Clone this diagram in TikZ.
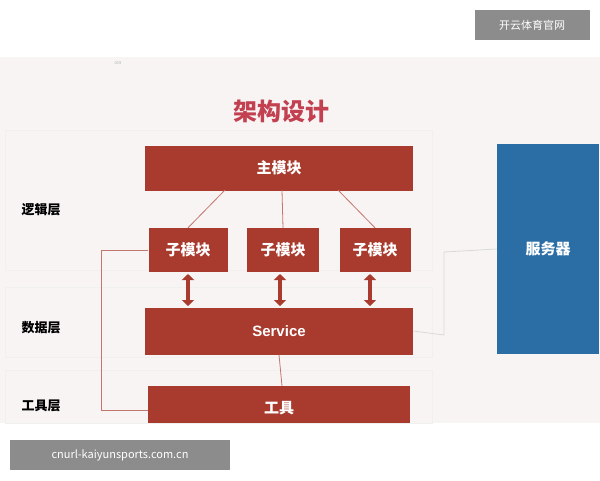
\documentclass[tikz,border=0pt]{standalone}
\usepackage{fontspec}
\setmainfont{Noto Sans CJK SC}
\setsansfont{Liberation Sans}
\usetikzlibrary{positioning,arrows.meta}
\definecolor{boxred}{HTML}{A83B2E}
\definecolor{srvblue}{HTML}{2B6EA6}
\definecolor{titlered}{HTML}{C2404F}
\definecolor{bgpink}{HTML}{F8F4F4}
\tikzset{
  redbox/.style={fill=boxred,text=white,inner sep=0pt,font=\bfseries\fontsize{15}{15}\selectfont},
  layer/.style={font=\bfseries\fontsize{13}{13}\selectfont},
  link/.style={boxred!70,line width=0.8pt},
}
\begin{document}
\begin{tikzpicture}[x=1pt,y=-1pt]
\useasboundingbox (0,0) rectangle (600,480);
\fill[white] (0,0) rectangle (600,480);
\fill[bgpink] (0,57) rectangle (600,423);
%----bands----%
\draw[black!6,line width=1pt] (5,130) rectangle (432,270);
\draw[black!6,line width=1pt] (5,287) rectangle (432,357);
\draw[black!6,line width=1pt] (5,370) rectangle (432,423);
\draw (118,63) node[black!35,font=\fontsize{4}{4}\selectfont] (pg) {019};
\draw (281,111) node[titlered,font=\bfseries\fontsize{24}{24}\selectfont] (title) {架构设计};
  %----layers----%
  \draw (41,210) node[layer] (l1) {逻辑层};
  \draw (41,328) node[layer] (l2) {数据层};
  \draw (41,406) node[layer] (l3) {工具层};
  %----boxes----%
  \draw (279,168) node[redbox,minimum width=268,minimum height=45] (main) {主模块};
  \draw (188,250) node[redbox,minimum width=79,minimum height=44] (s1) {子模块};
  \draw (283,250) node[redbox,minimum width=72,minimum height=44] (s2) {子模块};
  \draw (375,250) node[redbox,minimum width=71,minimum height=44] (s3) {子模块};
  \draw (279,331) node[redbox,minimum width=268,minimum height=47,font=\sffamily\bfseries\fontsize{15}{15}\selectfont] (svc) {Service};
  \fill[boxred] (148,386) rectangle (410,423);
  \draw (279,408) node[white,font=\bfseries\fontsize{15}{15}\selectfont] (tool) {工具};
  \draw (548,249) node[fill=srvblue,text=white,minimum width=102,minimum height=210,inner sep=0pt,font=\bfseries\fontsize{15}{15}\selectfont] (srv) {服务器};
  %----links----%
  \draw[link] (225,190) -- (s1.north);
  \draw[link] (282,190) -- (s2.north);
  \draw[link] (338,190) -- (s3.north);
  \draw[link] (svc.south) -- (282,386);
  \draw[link] (s1.west) -- (101,250) -- (101,410) -- (148,410);
  \draw[black!15,line width=0.8pt] (svc.east) -- (444,335) -- (444,252) -- (srv.west);
  %----arrows----%
  \foreach \x in {188,280,370}
    \draw[boxred,line width=4pt,{Triangle[width=12pt,length=6pt]}-{Triangle[width=12pt,length=6pt]}] (\x,274) -- (\x,306);
  %----marks----%
  \fill[black!45] (475,10) rectangle (590,40);
  \draw (532,25) node[white,font=\fontsize{11}{11}\selectfont] (site) {开云体育官网};
  \fill[black!45] (10,440) rectangle (230,470);
  \draw (120,455) node[white,font=\fontsize{11}{11}\selectfont] (url) {cnurl-kaiyunsports.com.cn};
\end{tikzpicture}
\end{document}
